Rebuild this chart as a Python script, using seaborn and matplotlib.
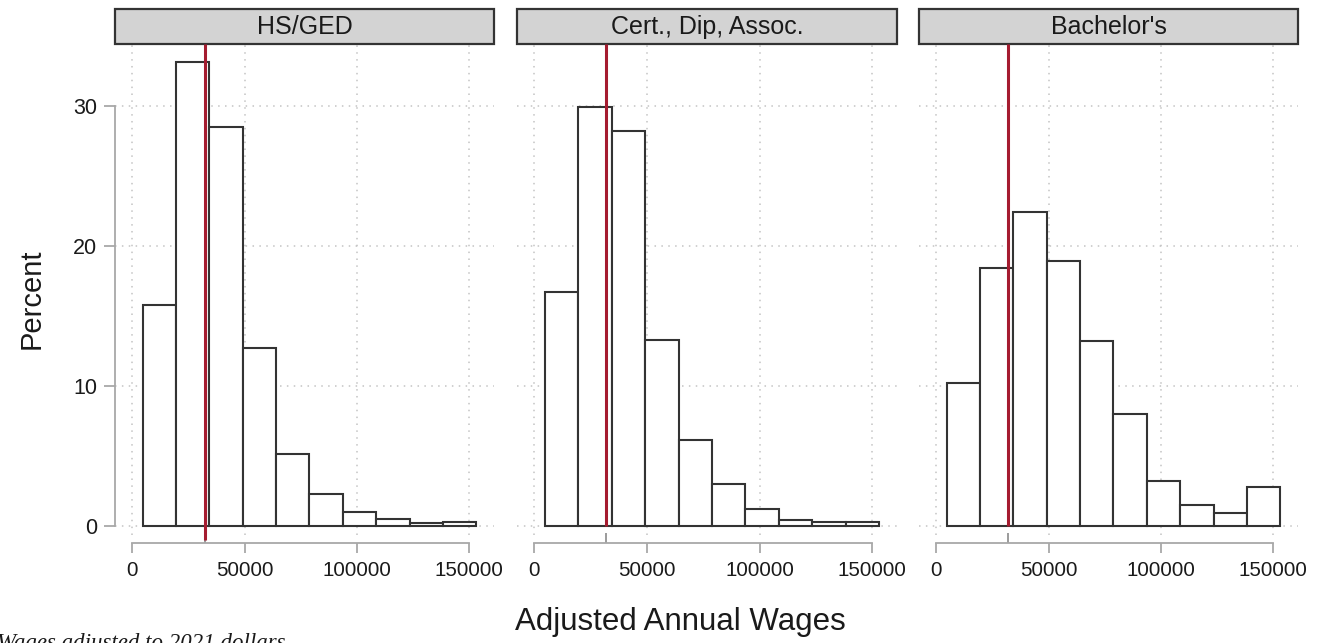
import numpy as np
import pandas as pd
import matplotlib
matplotlib.use("Agg")
import matplotlib.pyplot as plt
from matplotlib.patches import Rectangle
import seaborn as sns

# Education groups shown as facets
categories = ["HS/GED", "Cert., Dip, Assoc.", "Bachelor's"]

# Histogram bin edges for adjusted annual wages (10 equal-width bins)
bin_edges = [4600, 19450, 34300, 49150, 64000, 78850, 93700, 108550, 123400, 138250, 153100]

# Percent of workers in each wage bin, per education group
pct_hs = [15.8, 33.1, 28.5, 12.7, 5.1, 2.3, 1.0, 0.5, 0.2, 0.3]
pct_cert = [16.7, 29.9, 28.2, 13.3, 6.1, 3.0, 1.2, 0.4, 0.25, 0.3]
pct_bach = [10.2, 18.4, 22.4, 18.9, 13.2, 8.0, 3.2, 1.5, 0.9, 2.8]

# Reference wage line drawn in each panel
median_wage = [32300, 31800, 31900]

x_ticks = [0, 50000, 100000, 150000]
y_ticks = [0, 10, 20, 30]
x_title = "Adjusted Annual Wages"
y_title = "Percent"
note = "Wages adjusted to 2021 dollars"

series = [pct_hs, pct_cert, pct_bach]

sns.set_style("white")
plt.rcParams["font.family"] = ["Liberation Sans", "DejaVu Sans"]

W, H = 1323, 643
fig = plt.figure(figsize=(W / 100, H / 100), dpi=100)

panel_x = [(115, 494), (517, 897), (919, 1298)]
top_px, bot_px = 44.3, 535.0
strip_top = 9.3

centers = [(a + b) / 2 for a, b in zip(bin_edges[:-1], bin_edges[1:])]

grid_col = "#c4c4c4"
axis_col = "#a8a8a8"
text_col = "#1a1a1a"
red = "#a51c30"

for i, (cat, vals) in enumerate(zip(categories, series)):
    l, r = panel_x[i]
    ax = fig.add_axes([l / W, 1 - bot_px / H, (r - l) / W, (bot_px - top_px) / H])
    ax.set_axisbelow(True)
    df = pd.DataFrame({"wage": centers, "pct": vals})
    sns.histplot(data=df, x="wage", weights="pct", bins=list(bin_edges), ax=ax,
                 stat="count", color="white", edgecolor="#333333", linewidth=1.5,
                 alpha=1)
    ax.set_xlim(-7700, 161000)
    ax.set_ylim(-0.66, 34.39)

    ax.set_xticks(x_ticks)
    ax.set_xticklabels([str(t) for t in x_ticks])
    ax.set_yticks(y_ticks)
    ax.grid(True, which="major", linestyle=(0, (1, 3.5)), color=grid_col, linewidth=1.1)

    for s in ["top", "right"]:
        ax.spines[s].set_visible(False)
    ax.spines["bottom"].set_position(("outward", 6))
    ax.spines["bottom"].set_bounds(0, 150000)
    ax.spines["bottom"].set_color(axis_col)
    ax.spines["bottom"].set_linewidth(1.3)
    ax.tick_params(axis="x", which="major", bottom=True, direction="out", length=7,
                   width=1.3, color=axis_col, labelsize=14.8, labelcolor=text_col, pad=6)

    if i == 0:
        ax.spines["left"].set_bounds(0, 30)
        ax.spines["left"].set_color(axis_col)
        ax.spines["left"].set_linewidth(1.3)
        ax.tick_params(axis="y", left=True, direction="out", length=8, width=1.3,
                       color=axis_col, labelsize=15.5, labelcolor=text_col, pad=5)
    else:
        ax.spines["left"].set_visible(False)
        ax.tick_params(axis="y", left=False, length=0, labelleft=False)

    ax.set_xlabel("")
    ax.set_ylabel("")

    # reference wage line and its small marker on the axis
    m = median_wage[i]
    y_start = -1.0 if i == 0 else 0
    ax.plot([m, m], [y_start, 34.39], color=red, linewidth=2.2, zorder=6,
            solid_capstyle="butt", clip_on=False)
    ax.set_xticks([m], minor=True)
    ax.tick_params(axis="x", which="minor", bottom=True, direction="in", length=7,
                   width=1.2, color="#8a8a8a", labelbottom=False)

    # facet strip
    strip_h = (top_px - strip_top) / (bot_px - top_px)
    ax.add_patch(Rectangle((0, 1.0), 1, strip_h, transform=ax.transAxes,
                           facecolor="#d3d3d3", edgecolor="#333333", linewidth=1.6,
                           clip_on=False, zorder=5))
    ax.text(0.5, 1 + strip_h / 2, cat, transform=ax.transAxes, ha="center",
            va="center", fontsize=18, color=text_col, zorder=6)

fig.text(680 / W, 1 - 622 / H, x_title, ha="center", va="center", fontsize=22.5,
         color=text_col)
fig.text(32 / W, 1 - 299 / H, y_title, ha="center", va="center", rotation=90,
         fontsize=21, color=text_col)
fig.text(-3 / W, 1 - 649 / H, note, ha="left", va="baseline", fontsize=16.5,
         family="Liberation Serif", style="italic", color=text_col)

fig.savefig("out.png", dpi=100)
